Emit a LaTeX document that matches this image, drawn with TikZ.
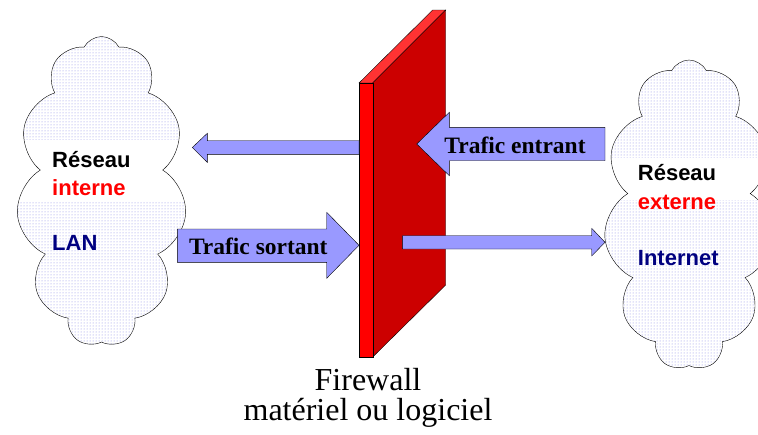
\documentclass[tikz,border=0pt]{standalone}
\usepackage{fontspec}
\setmainfont{Liberation Serif}
\newfontfamily\arialfont{Liberation Sans}
\usetikzlibrary{shapes.symbols,patterns}
\definecolor{fluxc}{RGB}{153,153,255}
\definecolor{murf}{RGB}{255,0,0}
\definecolor{murt}{RGB}{255,51,51}
\definecolor{murc}{RGB}{204,0,0}
\definecolor{navyc}{RGB}{0,0,128}
\definecolor{dotc}{RGB}{135,135,228}

\begin{document}
\begin{tikzpicture}[x=1pt, y=-1pt,
	nuage/.style={cloud, cloud puffs=11, cloud puff arc=125, cloud ignores aspect, draw, thin,
	              pattern=dots, pattern color=dotc,
	              minimum width=170pt, minimum height=310pt, inner sep=0pt},
	flux/.style={draw, fill=fluxc, thin},
	lbl/.style={font=\arialfont\bfseries\fontsize{22}{26}\selectfont, anchor=base west, inner sep=0pt},
	trafic/.style={font=\bfseries\fontsize{23.5}{26}\selectfont, anchor=base, inner sep=0pt},
	legende/.style={font=\fontsize{32}{30}\selectfont, align=center, anchor=north, inner sep=0pt}]
	 \useasboundingbox (0,0) rectangle (758,434);

	 % clouds
	 \node[nuage, path picture={\fill[white] (path picture bounding box.west) ++(0,-51.5) rectangle ++(172,62);}] (lan) at (101.5,191.5) {};
	 \node[nuage, path picture={\fill[white] (path picture bounding box.west) ++(0,-57) rectangle ++(172,42);}] (wan) at (689,215) {};

	 \node[lbl] (lan1) at (52,167.7) {Réseau};
	 \node[lbl, text=red] (lan2) at (52,195.7) {interne};
	 \node[lbl, text=navyc] (lan3) at (52,250.7) {LAN};
	 \node[lbl] (wan1) at (637.7,180.7) {Réseau};
	 \node[lbl, text=red] (wan2) at (637.7,209) {externe};
	 \node[lbl, text=navyc] (wan3) at (637.7,265) {Internet};

	 % firewall
	 \filldraw[fill=murt] (359,83) -- (372.7,83) -- (445.7,10) -- (432.7,10) -- cycle;
	 \filldraw[fill=murc] (372.7,83) -- (445.7,10) -- (445.7,285) -- (372.7,357) -- cycle;
	 \filldraw[fill=murf] (359,83) rectangle (372.7,357);

	 % flows
	 \draw[flux] (192.3,147.5) -- (207.3,133.3) -- (207.3,140.7) -- (359,140.7) -- (359,154.3) -- (207.3,154.3) -- (207.3,162.3) -- cycle;
	 \draw[flux] (177.3,229) -- (326.7,229) -- (326.7,212.3) -- (359,245.3) -- (326.7,278.3) -- (326.7,262.3) -- (177.3,262.3) -- cycle;
	 \draw[flux] (416.7,144) -- (449.3,112.3) -- (449.3,127.3) -- (605,127.3) -- (605,160.7) -- (449.3,160.7) -- (449.3,175.7) -- cycle;
	 \draw[flux] (402.3,235.7) -- (591.7,235.7) -- (591.7,228.3) -- (605,242.3) -- (591.7,256) -- (591.7,249) -- (402.3,249) -- cycle;

	 \node[trafic] (sortant) at (258.3,254.3) {Trafic sortant};
	 \node[trafic] (entrant) at (515,153.3) {Trafic entrant};

	 \node[legende] (fw) at (368,368.5) {Firewall\\matériel ou logiciel};
\end{tikzpicture}
\end{document}
